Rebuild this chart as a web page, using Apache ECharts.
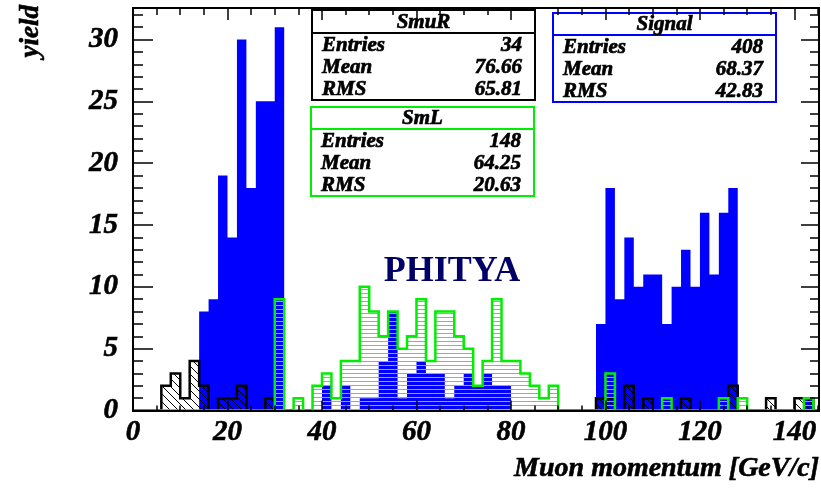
<!DOCTYPE html>
<html>
<head>
<meta charset="utf-8">
<script src="https://cdn.jsdelivr.net/npm/echarts@6/dist/echarts.min.js"></script>
<style>html,body{margin:0;padding:0;background:#fff}#c{width:821px;height:491px}</style>
</head>
<body>
<div id="c"></div>
<script>
// ---- data (bin low edge, content); bin width 2 GeV/c ----
const binWidth = 2;
const xMin = 0, xMax = 145.2, yMax = 32.55;
const xTickLabels = ['0','20','40','60','80','100','120','140'];
const yTickLabels = ['0','5','10','15','20','25','30'];

const signalBins = [[14,8],[16,9],[18,19],[20,14],[22,30],[24,18],[26,25],[28,25],[30,31],
  [40,2],[44,2],[48,1],[50,1],[52,4],[54,8],[56,1],[58,3],[60,4],[62,3],[64,3],[66,1],[68,2],[70,3],[72,2],[74,3],[76,2],[78,2],
  [98,7],[100,18],[102,9],[104,14],[106,10],[108,11],[110,11],[112,7],[114,10],[116,13],[118,10],[120,16],[122,11],[124,16],[126,18],[142,1]];

const smuRBins = [[6,2],[8,3],[10,1],[12,4],[14,2],[18,1],[20,1],[22,2],[28,1],
  [98,1],[100,1],[104,2],[108,1],[116,1],[126,2],[134,1],[140,1],[142,1]];

const smLBins = [[30,9],[34,1],[38,2],[40,3],[42,1],[44,4],[46,4],[48,10],[50,8],[52,6],[54,8],[56,5],[58,6],
  [60,9],[62,4],[64,8],[66,8],[68,6],[70,5],[72,2],[74,4],[76,9],[78,4],[80,4],[82,3],[84,2],[86,1],[88,2],
  [100,3],[112,1],[124,1],[128,1],[142,1]];

const statsSmuR = {title:'SmuR', entries:'34', mean:'76.66', rms:'65.81'};
const statsSmL = {title:'SmL', entries:'148', mean:'64.25', rms:'20.63'};
const statsSignal = {title:'Signal', entries:'408', mean:'68.37', rms:'42.83'};

// ---- helpers ----
const nBins = Math.ceil(xMax / binWidth);
function expand(bins){
  const v = new Array(nBins).fill(0);
  bins.forEach(b => { v[Math.round(b[0]/binWidth)] = b[1]; });
  return v;
}
function makePattern(kind){
  const c = document.createElement('canvas');
  if (kind === 'diag') {
    c.width = 8; c.height = 8;
    const g = c.getContext('2d');
    g.strokeStyle = '#000'; g.lineWidth = 1;
    g.beginPath();
    g.moveTo(-1,-1); g.lineTo(9,9);
    g.moveTo(-1,7); g.lineTo(1,9);
    g.moveTo(7,-1); g.lineTo(9,1);
    g.stroke();
  } else {
    c.width = 4; c.height = 4;
    const g = c.getContext('2d');
    g.fillStyle = '#22ff22';
    g.fillRect(0,1,4,1);
  }
  return {image: c, repeat: 'repeat'};
}
function stepPoints(api, vals){
  const pts = [api.coord([xMin, 0])];
  for (let i = 0; i < nBins; i++) {
    const x0 = i*binWidth, x1 = Math.min((i+1)*binWidth, xMax);
    pts.push(api.coord([x0, vals[i]]));
    pts.push(api.coord([x1, vals[i]]));
  }
  pts.push(api.coord([xMax, 0]));
  return pts;
}
function histSeries(name, bins, style, z){
  const vals = expand(bins);
  return {
    type: 'custom', name: name, z: z, silent: true,
    xAxisIndex: 0, yAxisIndex: 0, data: [[0,0]],
    renderItem: function(params, api){
      if (params.dataIndex !== 0) return;
      return {type: 'polyline', shape: {points: stepPoints(api, vals)}, style: style};
    }
  };
}
function histFill(name, bins, fill, z){
  const vals = expand(bins);
  return {
    type: 'custom', name: name + 'fill', z: z, silent: true,
    xAxisIndex: 0, yAxisIndex: 0, data: [[0,0]],
    renderItem: function(params, api){
      if (params.dataIndex !== 0) return;
      return {type: 'polygon', shape: {points: stepPoints(api, vals)}, style: {fill: fill, stroke: null}};
    }
  };
}

const FONT = '"Liberation Serif", "Times New Roman", serif';
function boldText(t, x, y, size, align){
  return {type:'text', x: x, y: y,
    style:{text:t, font:'italic bold ' + size + 'px ' + FONT, fill:'#000', stroke:'#000', lineWidth:0.7,
      align:align, verticalAlign:'middle'}};
}
function statsBox(s, x, y, w, h, divY, color){
  const els = [];
  els.push({type:'rect', shape:{x:x, y:y, width:w, height:h},
    style:{fill:'#fff', stroke:color, lineWidth:2}});
  els.push({type:'line', shape:{x1:x, y1:y+divY, x2:x+w, y2:y+divY},
    style:{stroke:color, lineWidth:2}});
  els.push(boldText(s.title, x + w/2, y + divY/2 + 1, 21, 'center'));
  const rows = [['Entries', s.entries], ['Mean', s.mean], ['RMS', s.rms]];
  const rowH = (h - divY) / 3;
  rows.forEach((r, i) => {
    const cy = y + divY + rowH*(i+0.5) + 1;
    els.push(boldText(r[0], x + 10, cy, 21, 'left'));
    els.push(boldText(r[1], x + w - 13, cy, 21, 'right'));
  });
  return {type:'group', z: 5, children: els};
}

const labelStyle = {fontFamily: FONT, fontStyle:'italic', fontWeight:'bold', fontSize: 29, color:'#000',
  textBorderColor:'#000', textBorderWidth:0.6};
const lineBlack = {color:'#000', width:2};

function xAx(pos, interval, len, labels){
  return {
    type:'value', min:xMin, max:xMax, interval:interval, position:pos, z: 10,
    axisLine:{show:true, onZero:false, lineStyle:lineBlack},
    axisTick:{show:true, inside:true, length:len, lineStyle:{color:'#000', width:1.5}},
    axisLabel: labels ? Object.assign({show:true, margin:8, showMaxLabel:false,
      formatter: v => xTickLabels[Math.round(v/20)] || ''}, labelStyle) : {show:false},
    splitLine:{show:false}
  };
}
function yAx(pos, interval, len, labels){
  return {
    type:'value', min:0, max:yMax, interval:interval, position:pos, z: 10,
    axisLine:{show:true, onZero:false, lineStyle:lineBlack},
    axisTick:{show:true, inside:true, length:len, lineStyle:{color:'#000', width:1.5}},
    axisLabel: labels ? Object.assign({show:true, margin:15, showMaxLabel:false,
      formatter: v => yTickLabels[Math.round(v/5)] || ''}, labelStyle) : {show:false},
    splitLine:{show:false}
  };
}

const chart = echarts.init(document.getElementById('c'), null, {renderer:'canvas'});
chart.setOption({
  animation: false,
  backgroundColor: '#fff',
  grid: {left:133, right:2, top:8, bottom:80.5, containLabel:false},
  xAxis: [xAx('bottom', 20, 10, true), xAx('bottom', 5, 5, false), xAx('top', 20, 12, false), xAx('top', 5, 7, false)],
  yAxis: [yAx('left', 5, 20, true), yAx('left', 1, 10, false), yAx('right', 5, 18, false), yAx('right', 1, 9, false)],
  series: [
    histFill('Signal', signalBins, '#0000ff', 2),
    histFill('SmuR', smuRBins, makePattern('diag'), 3),
    histSeries('SmuR', smuRBins, {stroke:'#000', lineWidth:2.5, fill:null}, 3),
    histFill('SmL', smLBins, makePattern('horiz'), 4),
    histSeries('SmL', smLBins, {stroke:'#00ee00', lineWidth:2.5, fill:null}, 4)
  ],
  graphic: [
    statsBox(statsSmuR, 312, 10, 223, 90, 23, '#000'),
    statsBox(statsSmL, 311, 107, 223, 89, 22, '#00ee00'),
    statsBox(statsSignal, 553, 13, 223, 89, 22, '#0000ff'),
    {type:'text', z:5, x:452, y:272, style:{text:'PHITYA', font:'bold 36px ' + FONT, fill:'#000066', align:'center', verticalAlign:'middle'}},
    {type:'text', z:5, x:31, y:5, rotation:Math.PI/2, style:{text:'yield', font:'italic bold 27px ' + FONT, fill:'#000', stroke:'#000', lineWidth:0.6, align:'right', verticalAlign:'middle'}},
    {type:'text', z:5, x:819, y:469, style:{text:'Muon momentum [GeV/c]', font:'italic bold 28px ' + FONT, fill:'#000', stroke:'#000', lineWidth:0.6, align:'right', verticalAlign:'middle'}}
  ]
});
</script>
</body>
</html>
